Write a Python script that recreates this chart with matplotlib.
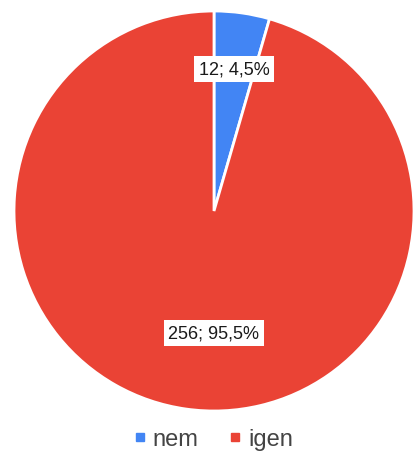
import numpy as np
import matplotlib
matplotlib.use("Agg")
import matplotlib.pyplot as plt
from matplotlib.lines import Line2D

categories = ["nem", "igen"]
counts = [12, 256]
percents = ["4,5%", "95,5%"]
colors = ["#4285F4", "#EA4335"]

W, H = 420, 464
fig = plt.figure(figsize=(W / 100, H / 100), dpi=100)
ax = fig.add_axes([0, 0, 1, 1])

cx, cy, r = 214, H - 212, 200
wedges, _ = ax.pie(counts, colors=colors, startangle=90, counterclock=False,
                   center=(cx, cy), radius=r, frame=True,
                   wedgeprops=dict(edgecolor="white", linewidth=2))
ax.set_xlim(0, W)
ax.set_ylim(0, H)
ax.set_aspect("equal")
ax.axis("off")

font = ["Liberation Sans", "DejaVu Sans"]
bbox = dict(boxstyle="square,pad=0.25", facecolor="white", edgecolor="none")
for i, w in enumerate(wedges):
    label = f"{counts[i]}; {percents[i]}"
    mid = np.deg2rad((w.theta1 + w.theta2) / 2)
    if i == 0:
        x = cx + 0.715 * r * np.cos(mid)
        y = cy + 0.715 * r * np.sin(mid)
    else:
        x = cx
        y = cy + 0.615 * r * np.sin(mid)
    ax.text(x, y, label, ha="center", va="center", fontsize=13,
            color="#1a1a1a", family=font, bbox=bbox)

handles = [Line2D([], [], marker="s", linestyle="none", markersize=6,
                  markerfacecolor=c, markeredgecolor=c) for c in colors]
fig.legend(handles, categories, loc="center", bbox_to_anchor=(0.508, 1 - 440 / H),
           ncol=2, frameon=False, handlelength=0.5,
           handletextpad=0.3, columnspacing=1.3,
           prop=dict(family=font, size=17), labelcolor="#444444")

fig.savefig("out.png", dpi=100)
